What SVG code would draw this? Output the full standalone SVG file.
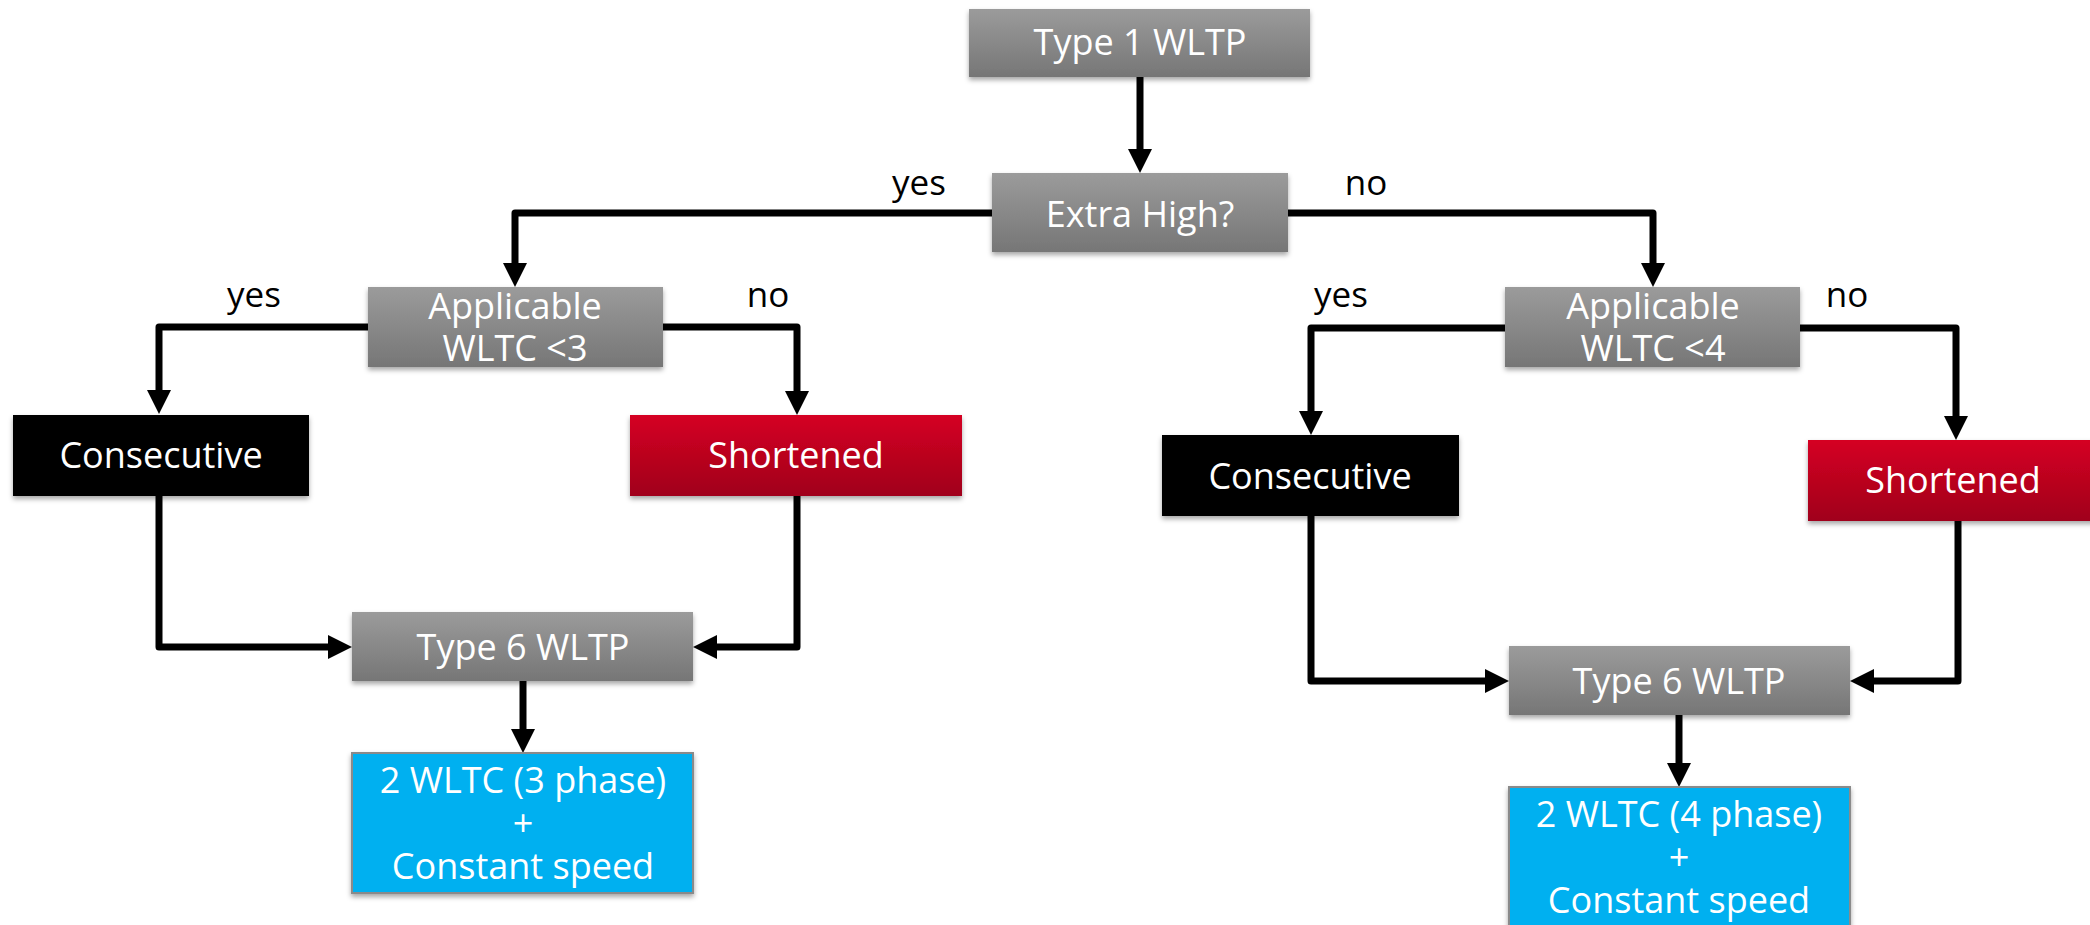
<svg xmlns="http://www.w3.org/2000/svg" width="2090" height="925" viewBox="0 0 2090 925">
<style>
.t{font-family:"Open Sans","Liberation Sans",sans-serif;font-size:36px;fill:#fff;text-anchor:middle}
.l{font-family:"Open Sans","Liberation Sans",sans-serif;font-size:35px;fill:#000;text-anchor:middle}
.gray{fill:url(#gGray);filter:url(#sh)}
.red{fill:url(#gRed);filter:url(#sh)}
.blk{fill:#000;filter:url(#sh)}
.blue{fill:#00b0f0;stroke:#8a8a8a;stroke-width:2;filter:url(#sh)}
.c{fill:none;stroke:#000;stroke-width:7;stroke-linejoin:round;marker-end:url(#ah)}
</style>
<defs>
<linearGradient id="gGray" x1="0" y1="0" x2="0" y2="1"><stop offset="0" stop-color="#9b9b9b"/><stop offset="1" stop-color="#767676"/></linearGradient>
<linearGradient id="gRed" x1="0" y1="0" x2="0" y2="1"><stop offset="0" stop-color="#d50423"/><stop offset="1" stop-color="#a0001a"/></linearGradient>
<filter id="sh" x="-10%" y="-10%" width="120%" height="130%"><feDropShadow dx="0" dy="3" stdDeviation="2.5" flood-color="#000" flood-opacity="0.35"/></filter>
<marker id="ah" markerUnits="userSpaceOnUse" markerWidth="24" markerHeight="24" refX="2" refY="12" orient="auto"><path d="M0,0 L24,12 L0,24 Z" fill="#000"/></marker>
</defs>
<g id="connectors">
<path class="c" d="M1140,77 V151"/>
<path class="c" d="M992,213 H515 V265"/>
<path class="c" d="M1288,213 H1653 V265"/>
<path class="c" d="M368,327 H159 V392"/>
<path class="c" d="M663,327 H797 V393"/>
<path class="c" d="M159,496 V647 H330"/>
<path class="c" d="M797,496 V647 H715"/>
<path class="c" d="M523,681 V731"/>
<path class="c" d="M1505,328 H1311 V413"/>
<path class="c" d="M1800,328 H1956 V418"/>
<path class="c" d="M1311,516 V681 H1487"/>
<path class="c" d="M1958,521 V681 H1872"/>
<path class="c" d="M1679,715 V765"/>
</g>
<g id="labels">
<text class="l" x="919" y="195">yes</text>
<text class="l" x="1366" y="195">no</text>
<text class="l" x="254" y="307">yes</text>
<text class="l" x="768" y="307">no</text>
<text class="l" x="1341" y="307">yes</text>
<text class="l" x="1847" y="307">no</text>
</g>
<g id="type1"><rect class="gray" x="969" y="9" width="341" height="68"/><text class="t" x="1140" y="55">Type 1 WLTP</text></g>
<g id="extrahigh"><rect class="gray" x="992" y="173" width="296" height="79"/><text class="t" x="1140" y="227">Extra High?</text></g>
<g id="app3"><rect class="gray" x="368" y="287" width="295" height="80"/><text class="t" x="515" y="319">Applicable</text><text class="t" x="515" y="361">WLTC &lt;3</text></g>
<g id="app4"><rect class="gray" x="1505" y="287" width="295" height="80"/><text class="t" x="1653" y="319">Applicable</text><text class="t" x="1653" y="361">WLTC &lt;4</text></g>
<g id="cons1"><rect class="blk" x="13" y="415" width="296" height="81"/><text class="t" x="161" y="468">Consecutive</text></g>
<g id="short1"><rect class="red" x="630" y="415" width="332" height="81"/><text class="t" x="796" y="468">Shortened</text></g>
<g id="cons2"><rect class="blk" x="1162" y="435" width="297" height="81"/><text class="t" x="1310" y="489">Consecutive</text></g>
<g id="short2"><rect class="red" x="1808" y="440" width="290" height="81"/><text class="t" x="1953" y="493">Shortened</text></g>
<g id="type6a"><rect class="gray" x="352" y="612" width="341" height="69"/><text class="t" x="523" y="660">Type 6 WLTP</text></g>
<g id="type6b"><rect class="gray" x="1509" y="646" width="341" height="69"/><text class="t" x="1679" y="694">Type 6 WLTP</text></g>
<g id="res3"><rect class="blue" x="352" y="753" width="341" height="140"/><text class="t" x="523" y="793">2 WLTC (3 phase)</text><text class="t" x="523" y="836">+</text><text class="t" x="523" y="879">Constant speed</text></g>
<g id="res4"><rect class="blue" x="1509" y="787" width="341" height="145"/><text class="t" x="1679" y="827">2 WLTC (4 phase)</text><text class="t" x="1679" y="870">+</text><text class="t" x="1679" y="913">Constant speed</text></g>
</svg>
